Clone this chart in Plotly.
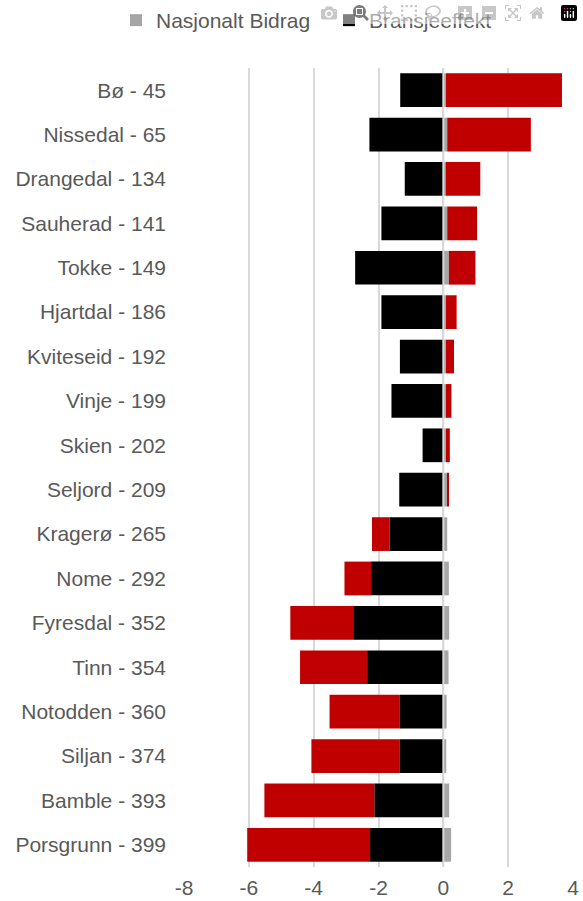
import plotly.graph_objects as go

kommuner = ["Bø - 45", "Nissedal - 65", "Drangedal - 134", "Sauherad - 141", "Tokke - 149",
            "Hjartdal - 186", "Kviteseid - 192", "Vinje - 199", "Skien - 202", "Seljord - 209",
            "Kragerø - 265", "Nome - 292", "Fyresdal - 352", "Tinn - 354", "Notodden - 360",
            "Siljan - 374", "Bamble - 393", "Porsgrunn - 399"]

nasjonalt_bidrag = [0.08, 0.12, 0.07, 0.12, 0.17, 0.08, 0.08, 0.08, 0.08, 0.13,
                    0.12, 0.17, 0.18, 0.16, 0.10, 0.09, 0.18, 0.24]
bransjeeffekt = [-1.33, -2.28, -1.19, -1.91, -2.72, -1.91, -1.34, -1.60, -0.64, -1.36,
                 -1.65, -2.23, -2.78, -2.35, -1.34, -1.34, -2.13, -2.26]
attraktivitet = [3.58, 2.58, 1.07, 0.92, 0.82, 0.33, 0.25, 0.17, 0.12, 0.04,
                 -0.55, -0.82, -1.94, -2.07, -2.17, -2.73, -3.39, -3.79]

x_ticks = [-8, -6, -4, -2, 0, 2, 4]
x_ticktext = [str(v) for v in x_ticks]

FONT = "Liberation Sans, Arial, sans-serif"
TXT = "#595959"
FS = 21

fig = go.Figure()
fig.add_trace(go.Bar(y=kommuner, x=nasjonalt_bidrag, orientation="h", name="Nasjonalt Bidrag",
                     marker=dict(color="#a6a6a6", line=dict(width=0))))
fig.add_trace(go.Bar(y=kommuner, x=bransjeeffekt, orientation="h", name="Bransjeeffekt",
                     marker=dict(color="#000000", line=dict(width=0))))
fig.add_trace(go.Bar(y=kommuner, x=attraktivitet, orientation="h", name="Attraktivitet",
                     marker=dict(color="#c00000", line=dict(width=0)), showlegend=False))

fig.add_vline(x=0, line=dict(color="#d9d9d9", width=2), layer="above")

fig.update_layout(
    width=583, height=901,
    barmode="relative", bargap=0.24,
    plot_bgcolor="white", paper_bgcolor="white",
    margin=dict(l=184, r=10, t=68, b=34, autoexpand=False),
    font=dict(family=FONT, size=FS, color=TXT),
    legend=dict(orientation="h", xref="paper", x=(116 - 184) / 389, xanchor="left",
                yref="paper", y=1 + 68 / 799, yanchor="top",
                font=dict(size=FS, color=TXT), traceorder="normal",
                itemwidth=30, entrywidth=168, entrywidthmode="pixels"),
    xaxis=dict(range=[-8, 4], tickvals=x_ticks, ticktext=x_ticktext, showgrid=True,
               gridcolor="#d9d9d9", gridwidth=1.5, automargin=False,
               zeroline=False, showline=False, ticks="", ticklabelstandoff=6,
               tickfont=dict(size=FS, color=TXT)),
    yaxis=dict(categoryorder="array", categoryarray=kommuner, autorange="reversed",
               showgrid=False, zeroline=False, showline=False, ticks="", automargin=False,
               ticklabelstandoff=17, tickfont=dict(size=FS, color=TXT)),
)
fig.write_html("out.html", post_script="document.body.style.margin='0';document.body.style.overflow='hidden';")
